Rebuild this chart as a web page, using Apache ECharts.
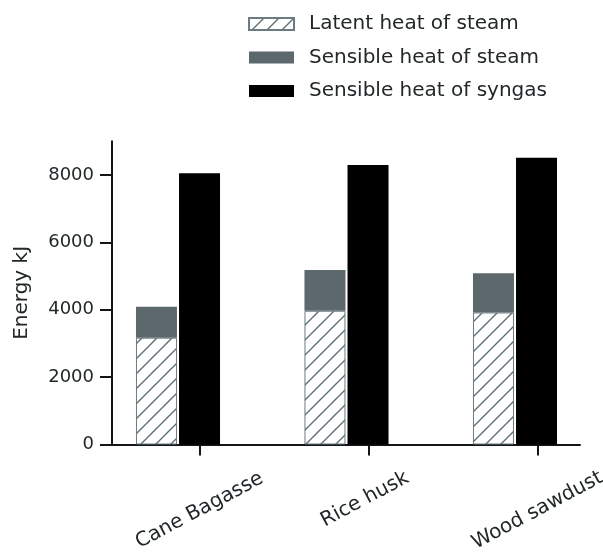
<!DOCTYPE html>
<html>
<head>
<meta charset="utf-8">
<script src="https://cdn.jsdelivr.net/npm/echarts@6/dist/echarts.min.js"></script>
<style>
  html, body { margin: 0; padding: 0; background: #ffffff; }
  #chart { width: 603px; height: 557px; }
</style>
</head>
<body>
<div id="chart"></div>
<script>
// ---- data ----
const categories = ['Cane Bagasse', 'Rice husk', 'Wood sawdust'];
const latentHeatSteam = [3170, 3970, 3920];
const sensibleHeatSteam = [920, 1210, 1160];
const sensibleHeatSyngas = [8050, 8300, 8510];
const yTickValues = [0, 2000, 4000, 6000, 8000];
const seriesNames = ['Latent heat of steam', 'Sensible heat of steam', 'Sensible heat of syngas'];

// ---- styles ----
const TEXT = '#22282a';
const AXIS = '#151515';
const FONT = 'DejaVu Sans';

function hatchPattern() {
  const s = 15;
  const c = document.createElement('canvas');
  c.width = s; c.height = s;
  const g = c.getContext('2d');
  g.fillStyle = '#ffffff';
  g.fillRect(0, 0, s, s);
  g.strokeStyle = '#5d6f75';
  g.lineWidth = 1.4;
  g.beginPath();
  g.moveTo(-1, s + 1); g.lineTo(s + 1, -1);
  g.moveTo(-1, 1); g.lineTo(1, -1);
  g.moveTo(s - 1, s + 1); g.lineTo(s + 1, s - 1);
  g.stroke();
  return c;
}

const gridTop = 141.3, gridBottom = 112.5;
const chart = echarts.init(document.getElementById('chart'), null, { renderer: 'canvas' });

const option = {
  backgroundColor: '#ffffff',
  animation: false,
  textStyle: { fontFamily: FONT },
  legend: {
    orient: 'vertical',
    left: 243,
    top: 9,
    itemWidth: 45,
    itemHeight: 12,
    itemGap: 13.5,
    icon: 'rect',
    data: seriesNames,
    textStyle: { fontFamily: FONT, fontSize: 20, color: TEXT, padding: [0, 0, 0, 10] }
  },
  grid: [
    { left: 112, right: 23, top: gridTop, bottom: gridBottom, outerBoundsMode: 'none', containLabel: false },      // axes
    { left: 93.75, width: 505.5, top: gridTop, bottom: gridBottom, outerBoundsMode: 'none', containLabel: false }, // bars
    { left: 115, width: 507, top: gridTop, bottom: gridBottom, outerBoundsMode: 'none', containLabel: false }      // ticks + labels
  ],
  xAxis: [
    {
      gridIndex: 0, type: 'value', min: 0, max: 1,
      axisLine: { show: true, lineStyle: { color: AXIS, width: 2 } },
      axisTick: { show: false }, axisLabel: { show: false }, splitLine: { show: false }
    },
    {
      gridIndex: 1, type: 'category', data: categories, show: false
    },
    {
      gridIndex: 2, type: 'category', data: categories,
      axisLine: { show: false },
      axisTick: { show: true, alignWithLabel: true, length: 11, lineStyle: { color: AXIS, width: 2 } },
      axisLabel: {
        interval: 0,
        rotate: 28,
        align: 'center',
        verticalAlign: 'middle',
        margin: 66,
        formatter: function (v, i) { return i === 1 ? '{s|' + v + '}' : '{n|' + v + '}'; },
        rich: {
          n: { fontFamily: FONT, fontSize: 20, color: TEXT },
          s: { fontFamily: FONT, fontSize: 20, color: TEXT, padding: [0, 0, 23, 4] }
        }
      },
      splitLine: { show: false }
    }
  ],
  yAxis: [
    {
      gridIndex: 0, type: 'value', min: 0, max: 9000,
      name: 'Energy kJ', nameLocation: 'middle', nameGap: 80,
      nameTextStyle: { fontFamily: FONT, fontSize: 20, color: TEXT },
      axisLine: { show: true, lineStyle: { color: AXIS, width: 2 } },
      axisTick: { show: true, customValues: yTickValues, length: 12, lineStyle: { color: AXIS, width: 2 } },
      axisLabel: {
        customValues: yTickValues, margin: 18, fontFamily: FONT, fontSize: 18, color: TEXT,
        formatter: function (v) { return String(v); }
      },
      splitLine: { show: false }
    },
    { gridIndex: 1, type: 'value', min: 0, max: 9000, show: false },
    { gridIndex: 2, type: 'value', min: 0, max: 9000, show: false }
  ],
  series: [
    {
      name: seriesNames[0], type: 'bar', xAxisIndex: 1, yAxisIndex: 1, stack: 'steam',
      barWidth: 41, barGap: '5%',
      itemStyle: { color: { image: hatchPattern(), repeat: 'repeat' }, borderColor: '#6a7b81', borderWidth: 1 },
      data: latentHeatSteam
    },
    {
      name: seriesNames[1], type: 'bar', xAxisIndex: 1, yAxisIndex: 1, stack: 'steam',
      barWidth: 41, barGap: '5%',
      itemStyle: { color: '#5c686c' },
      data: sensibleHeatSteam
    },
    {
      name: seriesNames[2], type: 'bar', xAxisIndex: 1, yAxisIndex: 1,
      barWidth: 41, barGap: '5%',
      itemStyle: { color: '#000000' },
      data: sensibleHeatSyngas
    }
  ]
};
chart.setOption(option);
</script>
</body>
</html>
